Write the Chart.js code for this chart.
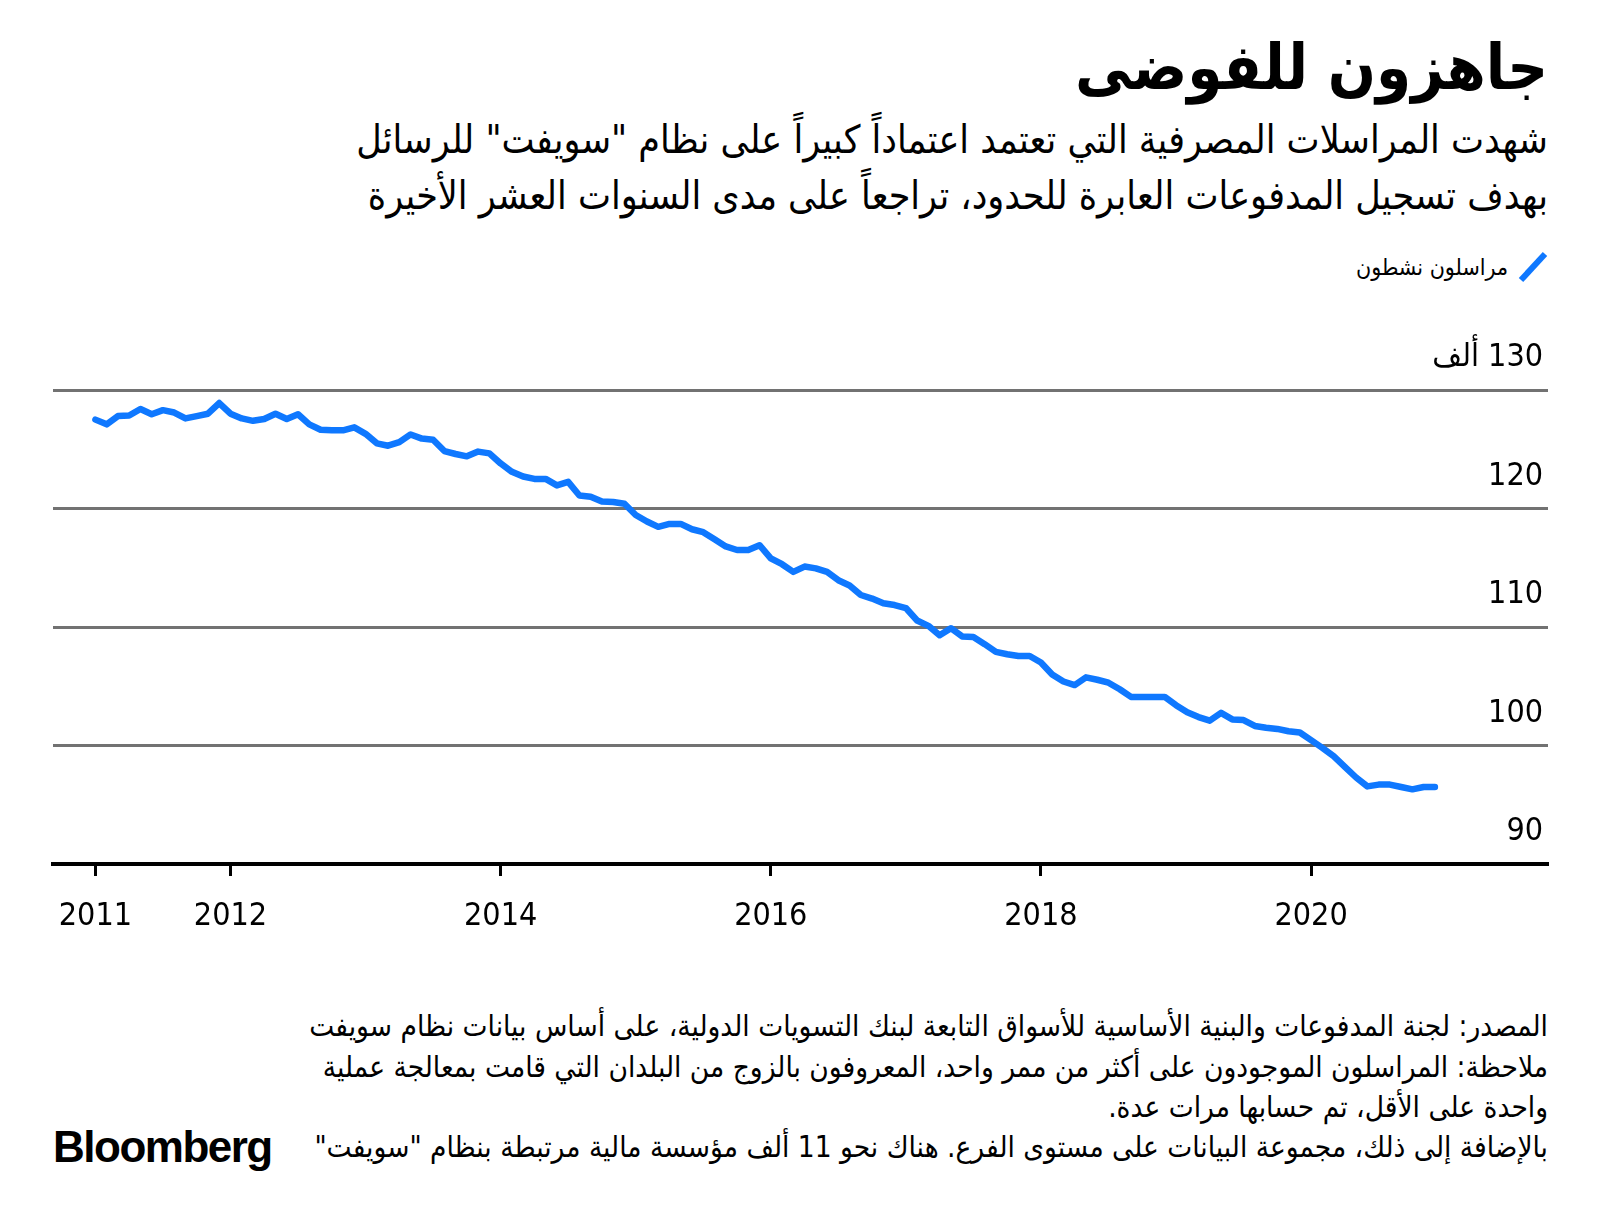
<!DOCTYPE html>
<html lang="ar" dir="rtl">
<head>
<meta charset="utf-8">
<script src="https://cdn.jsdelivr.net/npm/chart.js@4/dist/chart.umd.min.js"></script>
<style>
  body { margin: 0; width: 1600px; height: 1226px; background: #fff; position: relative; overflow: hidden;
         font-family: 'DejaVu Sans Condensed', 'DejaVu Sans', sans-serif; color: #000; }
  .t { position: absolute; right: 52px; white-space: nowrap; line-height: 1; }
  #title { top: 36px; font-size: 63px; font-weight: bold; }
  .sub { font-size: 39px; }
  #sub1 { top: 120px; }
  #sub2 { top: 176px; }
  #legend { position: absolute; right: 52px; top: 250px; height: 34px; display: flex; align-items: center; gap: 10px; font-size: 23px; }
  .foot { font-size: 29.5px; }
  #logo { position: absolute; left: 53px; top: 1125px; font-family: 'Liberation Sans', Arial, sans-serif; font-weight: bold;
          font-size: 44px; letter-spacing: -1.5px; line-height: 1; direction: ltr; }
  #chartBox { position: absolute; left: 0; top: 300px; width: 1600px; height: 644px; }
</style>
</head>
<body>
<div class="t" id="title">جاهزون للفوضى</div>
<div class="t sub" id="sub1">شهدت المراسلات المصرفية التي تعتمد اعتماداً كبيراً على نظام "سويفت" للرسائل</div>
<div class="t sub" id="sub2">بهدف تسجيل المدفوعات العابرة للحدود، تراجعاً على مدى السنوات العشر الأخيرة</div>
<div id="legend">
  <svg width="30" height="32" viewBox="0 0 30 32"><line x1="3" y1="29" x2="27" y2="3" stroke="#0f78ff" stroke-width="6"/></svg>
  <span id="legendText"></span>
</div>
<div id="chartBox"><canvas id="chart"></canvas></div>
<div class="t foot" style="top:1012px">المصدر: لجنة المدفوعات والبنية الأساسية للأسواق التابعة لبنك التسويات الدولية، على أساس بيانات نظام سويفت</div>
<div class="t foot" style="top:1053px">ملاحظة: المراسلون الموجودون على أكثر من ممر واحد، المعروفون بالزوج من البلدان التي قامت بمعالجة عملية</div>
<div class="t foot" style="top:1093px">واحدة على الأقل، تم حسابها مرات عدة.</div>
<div class="t foot" style="top:1133px">بالإضافة إلى ذلك، مجموعة البيانات على مستوى الفرع. هناك نحو 11 ألف مؤسسة مالية مرتبطة بنظام "سويفت"</div>
<div id="logo">Bloomberg</div>

<script>
// monthly values, thousands, Jan 2011 .. Dec 2020
const startYear = 2011;
const activeCorrespondents = [
  127.5, 127.1, 127.8, 127.85, 128.4, 127.95, 128.3, 128.1, 127.6, 127.8, 128.0, 128.9,
  128.0, 127.6, 127.4, 127.55, 128.0, 127.55, 127.95, 127.1, 126.65, 126.6, 126.6, 126.85,
  126.3, 125.5, 125.3, 125.6, 126.25, 125.9, 125.8, 124.85, 124.6, 124.4, 124.8, 124.65,
  123.8, 123.1, 122.7, 122.5, 122.5, 121.95, 122.25, 121.1, 121.0, 120.6, 120.55, 120.4,
  119.45, 118.9, 118.45, 118.7, 118.7, 118.25, 118.0, 117.4, 116.8, 116.5, 116.5, 116.9,
  115.8, 115.3, 114.65, 115.1, 114.95, 114.65, 113.95, 113.5, 112.7, 112.4, 112.0, 111.85,
  111.6, 110.55, 110.1, 109.3, 109.9, 109.2, 109.15, 108.55, 107.9, 107.7, 107.55, 107.55,
  107.0, 106.0, 105.4, 105.1, 105.75, 105.55, 105.3, 104.75, 104.1, 104.1, 104.1, 104.1,
  103.4, 102.8, 102.4, 102.1, 102.75, 102.2, 102.15, 101.65, 101.5, 101.4, 101.2, 101.1,
  100.45, 99.8, 99.1, 98.2, 97.3, 96.55, 96.7, 96.7, 96.5, 96.3, 96.5, 96.5
];
const yearTicks = [2011, 2012, 2014, 2016, 2018, 2020];
const yTicks = [90, 100, 110, 120, 130];
const yTickLabels = ['90', '100', '110', '120', '130 ألف'];
const seriesLabel = 'مراسلون نشطون';

document.getElementById('legendText').textContent = seriesLabel;

const axisFont = { family: "'DejaVu Sans Condensed', sans-serif", size: 32 };
const points = activeCorrespondents.map((v, i) => ({ x: startYear + i / 12, y: v }));

const ctx = document.getElementById('chart').getContext('2d');

const chart = new Chart(ctx, {
  type: 'line',
  data: {
    datasets: [{
      label: seriesLabel,
      data: points,
      borderColor: '#0f78ff',
      borderWidth: 6.5,
      borderJoinStyle: 'round',
      borderCapStyle: 'round',
      pointRadius: 0,
      tension: 0,
      fill: false
    }]
  },
  options: {
    responsive: true,
    maintainAspectRatio: false,
    animation: false,
    layout: { padding: { left: 53, right: 52, top: 90, bottom: 0 } },
    plugins: { legend: { display: false }, tooltip: { enabled: false } },
    scales: {
      x: {
        type: 'linear',
        min: 2010.686,
        max: 2021.754,
        afterBuildTicks: s => { s.ticks = yearTicks.map(v => ({ value: v })); },
        afterFit: s => { s.height = 80; },
        grid: { drawOnChartArea: false, drawTicks: true, tickLength: 12, tickWidth: 3, tickColor: '#000' },
        border: { display: true, color: '#000', width: 4 },
        ticks: { color: '#000', font: axisFont, padding: 21, maxRotation: 0, autoSkip: false, callback: v => String(v) }
      },
      y: {
        position: 'right',
        min: 90,
        max: 130,
        afterBuildTicks: s => { s.ticks = yTicks.map(v => ({ value: v })); },
        afterFit: s => { s.width = 0; },
        grid: { color: '#727272', lineWidth: 3, drawTicks: false },
        border: { display: false },
        ticks: {
          mirror: true, padding: -5, labelOffset: -32, color: '#000', font: axisFont,
          callback: v => yTickLabels[yTicks.indexOf(v)]
        }
      }
    }
  },
  plugins: [{ id: 'rtlText', beforeDraw(c) { c.ctx.direction = 'rtl'; } }]
});
</script>
</body>
</html>
